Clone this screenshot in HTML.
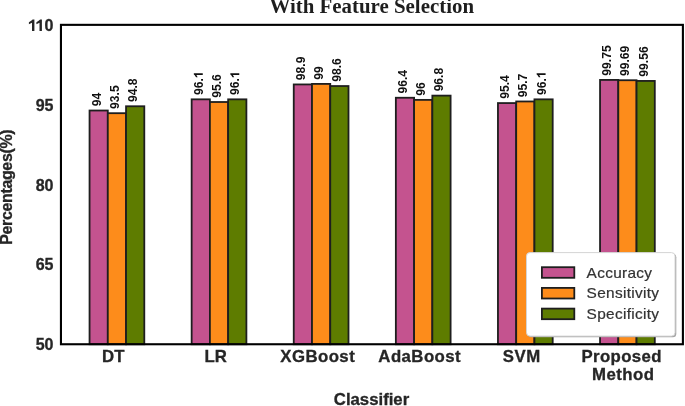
<!DOCTYPE html><html><head><meta charset="utf-8"><style>html,body{margin:0;padding:0;background:#fff;width:685px;height:406px;overflow:hidden}svg{display:block}.t{opacity:0.999}text{white-space:pre}</style></head><body>
<svg width="685" height="406" viewBox="0 0 685 406" style="will-change:transform">
<rect x="0" y="0" width="685" height="406" fill="#fff"/>
<rect x="89.55" y="110.52" width="18.25" height="233.73" fill="#C4538F" stroke="#1e1e1e" stroke-width="1.8"/>
<rect x="107.80" y="113.19" width="18.25" height="231.06" fill="#FD8C1B" stroke="#1e1e1e" stroke-width="1.8"/>
<rect x="126.05" y="106.26" width="18.25" height="237.99" fill="#5E7C00" stroke="#1e1e1e" stroke-width="1.8"/>
<rect x="191.65" y="99.34" width="18.25" height="244.91" fill="#C4538F" stroke="#1e1e1e" stroke-width="1.8"/>
<rect x="209.90" y="102.01" width="18.25" height="242.24" fill="#FD8C1B" stroke="#1e1e1e" stroke-width="1.8"/>
<rect x="228.15" y="99.34" width="18.25" height="244.91" fill="#5E7C00" stroke="#1e1e1e" stroke-width="1.8"/>
<rect x="293.75" y="84.44" width="18.25" height="259.81" fill="#C4538F" stroke="#1e1e1e" stroke-width="1.8"/>
<rect x="312.00" y="83.91" width="18.25" height="260.34" fill="#FD8C1B" stroke="#1e1e1e" stroke-width="1.8"/>
<rect x="330.25" y="86.04" width="18.25" height="258.21" fill="#5E7C00" stroke="#1e1e1e" stroke-width="1.8"/>
<rect x="395.85" y="97.75" width="18.25" height="246.50" fill="#C4538F" stroke="#1e1e1e" stroke-width="1.8"/>
<rect x="414.10" y="99.88" width="18.25" height="244.37" fill="#FD8C1B" stroke="#1e1e1e" stroke-width="1.8"/>
<rect x="432.35" y="95.62" width="18.25" height="248.63" fill="#5E7C00" stroke="#1e1e1e" stroke-width="1.8"/>
<rect x="497.95" y="103.07" width="18.25" height="241.18" fill="#C4538F" stroke="#1e1e1e" stroke-width="1.8"/>
<rect x="516.20" y="101.47" width="18.25" height="242.78" fill="#FD8C1B" stroke="#1e1e1e" stroke-width="1.8"/>
<rect x="534.45" y="99.34" width="18.25" height="244.91" fill="#5E7C00" stroke="#1e1e1e" stroke-width="1.8"/>
<rect x="600.05" y="79.91" width="18.25" height="264.34" fill="#C4538F" stroke="#1e1e1e" stroke-width="1.8"/>
<rect x="618.30" y="80.23" width="18.25" height="264.02" fill="#FD8C1B" stroke="#1e1e1e" stroke-width="1.8"/>
<rect x="636.55" y="80.93" width="18.25" height="263.32" fill="#5E7C00" stroke="#1e1e1e" stroke-width="1.8"/>
<text transform="translate(100.67,106.27) rotate(-90) translate(0.00,0) scale(0.97,1)" text-anchor="start" font-family="Liberation Sans" font-weight="bold" font-size="12.5" fill="#111">94</text>
<text transform="translate(118.92,108.94) rotate(-90) translate(0.00,0) scale(0.97,1)" text-anchor="start" font-family="Liberation Sans" font-weight="bold" font-size="12.5" fill="#111">93.5</text>
<text transform="translate(137.18,102.01) rotate(-90) translate(0.00,0) scale(0.97,1)" text-anchor="start" font-family="Liberation Sans" font-weight="bold" font-size="12.5" fill="#111">94.8</text>
<g transform="translate(202.77,95.09) rotate(-90) scale(0.97,1)">
<text x="0" y="0" font-family="Liberation Sans" font-weight="bold" font-size="12.5" fill="#111">96.</text>
<path transform="translate(17.38,0) scale(0.01250,-0.01250)" d="M270,0 L420,0 L420,716 L307,716 L239,641 L76,541 L76,410 L270,510 Z" fill="#111"/>
</g>
<text transform="translate(221.02,97.76) rotate(-90) translate(0.00,0) scale(0.97,1)" text-anchor="start" font-family="Liberation Sans" font-weight="bold" font-size="12.5" fill="#111">95.6</text>
<g transform="translate(239.27,95.09) rotate(-90) scale(0.97,1)">
<text x="0" y="0" font-family="Liberation Sans" font-weight="bold" font-size="12.5" fill="#111">96.</text>
<path transform="translate(17.38,0) scale(0.01250,-0.01250)" d="M270,0 L420,0 L420,716 L307,716 L239,641 L76,541 L76,410 L270,510 Z" fill="#111"/>
</g>
<text transform="translate(304.88,80.19) rotate(-90) translate(0.00,0) scale(0.97,1)" text-anchor="start" font-family="Liberation Sans" font-weight="bold" font-size="12.5" fill="#111">98.9</text>
<text transform="translate(323.12,79.66) rotate(-90) translate(0.00,0) scale(0.97,1)" text-anchor="start" font-family="Liberation Sans" font-weight="bold" font-size="12.5" fill="#111">99</text>
<text transform="translate(341.38,81.79) rotate(-90) translate(0.00,0) scale(0.97,1)" text-anchor="start" font-family="Liberation Sans" font-weight="bold" font-size="12.5" fill="#111">98.6</text>
<text transform="translate(406.97,93.50) rotate(-90) translate(0.00,0) scale(0.97,1)" text-anchor="start" font-family="Liberation Sans" font-weight="bold" font-size="12.5" fill="#111">96.4</text>
<text transform="translate(425.22,95.63) rotate(-90) translate(0.00,0) scale(0.97,1)" text-anchor="start" font-family="Liberation Sans" font-weight="bold" font-size="12.5" fill="#111">96</text>
<text transform="translate(443.47,91.37) rotate(-90) translate(0.00,0) scale(0.97,1)" text-anchor="start" font-family="Liberation Sans" font-weight="bold" font-size="12.5" fill="#111">96.8</text>
<text transform="translate(509.07,98.82) rotate(-90) translate(0.00,0) scale(0.97,1)" text-anchor="start" font-family="Liberation Sans" font-weight="bold" font-size="12.5" fill="#111">95.4</text>
<text transform="translate(527.33,97.22) rotate(-90) translate(0.00,0) scale(0.97,1)" text-anchor="start" font-family="Liberation Sans" font-weight="bold" font-size="12.5" fill="#111">95.7</text>
<g transform="translate(545.58,95.09) rotate(-90) scale(0.97,1)">
<text x="0" y="0" font-family="Liberation Sans" font-weight="bold" font-size="12.5" fill="#111">96.</text>
<path transform="translate(17.38,0) scale(0.01250,-0.01250)" d="M270,0 L420,0 L420,716 L307,716 L239,641 L76,541 L76,410 L270,510 Z" fill="#111"/>
</g>
<text transform="translate(611.17,75.66) rotate(-90) translate(0.00,0) scale(0.97,1)" text-anchor="start" font-family="Liberation Sans" font-weight="bold" font-size="12.5" fill="#111">99.75</text>
<text transform="translate(629.42,75.98) rotate(-90) translate(0.00,0) scale(0.97,1)" text-anchor="start" font-family="Liberation Sans" font-weight="bold" font-size="12.5" fill="#111">99.69</text>
<text transform="translate(647.67,76.68) rotate(-90) translate(0.00,0) scale(0.97,1)" text-anchor="start" font-family="Liberation Sans" font-weight="bold" font-size="12.5" fill="#111">99.56</text>
<rect x="60.95" y="24.85" width="621.95" height="319.40" fill="none" stroke="#000" stroke-width="2.1"/>
<text transform="translate(53.50,31.20) translate(0.00,0)" text-anchor="end" font-family="Liberation Sans" font-weight="bold" font-size="16" fill="#262626" stroke="#262626" stroke-width="0.3">0</text>
<path d="M32.00,30.90 L34.40,30.90 L34.40,19.40 L32.60,19.40 L31.50,20.60 L28.90,22.20 L28.90,24.30 L32.00,22.70 Z" fill="#262626"/>
<path d="M39.50,30.90 L41.90,30.90 L41.90,19.40 L40.10,19.40 L39.00,20.60 L36.40,22.20 L36.40,24.30 L39.50,22.70 Z" fill="#262626"/>
<text transform="translate(53.50,110.85) translate(0.00,0)" text-anchor="end" font-family="Liberation Sans" font-weight="bold" font-size="16" fill="#262626" stroke="#262626" stroke-width="0.3">95</text>
<text transform="translate(53.50,190.50) translate(0.00,0)" text-anchor="end" font-family="Liberation Sans" font-weight="bold" font-size="16" fill="#262626" stroke="#262626" stroke-width="0.3">80</text>
<text transform="translate(53.50,270.15) translate(0.00,0)" text-anchor="end" font-family="Liberation Sans" font-weight="bold" font-size="16" fill="#262626" stroke="#262626" stroke-width="0.3">65</text>
<text transform="translate(53.50,349.80) translate(0.00,0)" text-anchor="end" font-family="Liberation Sans" font-weight="bold" font-size="16" fill="#262626" stroke="#262626" stroke-width="0.3">50</text>
<text transform="translate(113.20,361.80) scale(1.05,1) translate(-0.00,0)" text-anchor="middle" font-family="Liberation Sans" font-weight="bold" font-size="16" fill="#262626" stroke="#262626" stroke-width="0.3">DT</text>
<text transform="translate(215.60,361.80) scale(1.05,1) translate(-0.00,0)" text-anchor="middle" font-family="Liberation Sans" font-weight="bold" font-size="16" fill="#262626" stroke="#262626" stroke-width="0.3">LR</text>
<text transform="translate(317.50,361.80) scale(1.05,1) translate(0.21,0)" text-anchor="middle" font-family="Liberation Sans" font-weight="bold" font-size="16" letter-spacing="0.42" fill="#262626" stroke="#262626" stroke-width="0.3">XGBoost</text>
<text transform="translate(419.50,361.80) scale(1.05,1) translate(0.21,0)" text-anchor="middle" font-family="Liberation Sans" font-weight="bold" font-size="16" letter-spacing="0.42" fill="#262626" stroke="#262626" stroke-width="0.3">AdaBoost</text>
<text transform="translate(521.50,361.80) scale(1.05,1) translate(0.21,0)" text-anchor="middle" font-family="Liberation Sans" font-weight="bold" font-size="16" letter-spacing="0.42" fill="#262626" stroke="#262626" stroke-width="0.3">SVM</text>
<text transform="translate(621.50,361.80) scale(1.05,1) translate(0.18,0)" text-anchor="middle" font-family="Liberation Sans" font-weight="bold" font-size="16" letter-spacing="0.37" fill="#262626" stroke="#262626" stroke-width="0.3">Proposed</text>
<text transform="translate(623.00,380.10) scale(1.05,1) translate(0.23,0)" text-anchor="middle" font-family="Liberation Sans" font-weight="bold" font-size="16" letter-spacing="0.45" fill="#262626" stroke="#262626" stroke-width="0.3">Method</text>
<text transform="translate(12.00,187.10) rotate(-90) translate(-0.17,0)" text-anchor="middle" font-family="Liberation Sans" font-weight="bold" font-size="16" letter-spacing="-0.35" fill="#262626" stroke="#262626" stroke-width="0.3">Percentages(%)</text>
<text transform="translate(371.50,404.70) scale(1.047,1) translate(0.00,0)" text-anchor="middle" font-family="Liberation Sans" font-weight="bold" font-size="16" fill="#262626" stroke="#262626" stroke-width="0.3">Classifier</text>
<text transform="translate(371.75,13.40) scale(1.045,1) translate(0.00,0)" text-anchor="middle" font-family="Liberation Serif" font-weight="bold" font-size="20" fill="#1e1e1e">With Feature Selection</text>
<rect x="527.8" y="253.8" width="148.5" height="83.5" rx="3.5" ry="3.5" fill="#a6a6a6"/>
<rect x="526.5" y="252.6" width="148.5" height="83.5" rx="3.5" ry="3.5" fill="#fff" stroke="#d4d4d4" stroke-width="1"/>
<rect x="541.9" y="267.20" width="32.4" height="10.6" fill="#C4538F" stroke="#1e1e1e" stroke-width="1.8"/>
<text transform="translate(586.60,277.70) scale(1.1,1) translate(0.00,0)" text-anchor="start" font-family="Liberation Sans" font-size="14" letter-spacing="0.28" fill="#333" stroke="#333" stroke-width="0.2">Accuracy</text>
<rect x="541.9" y="287.90" width="32.4" height="10.6" fill="#FD8C1B" stroke="#1e1e1e" stroke-width="1.8"/>
<text transform="translate(586.60,298.40) scale(1.1,1) translate(0.00,0)" text-anchor="start" font-family="Liberation Sans" font-size="14" letter-spacing="0.28" fill="#333" stroke="#333" stroke-width="0.2">Sensitivity</text>
<rect x="541.9" y="308.60" width="32.4" height="10.6" fill="#5E7C00" stroke="#1e1e1e" stroke-width="1.8"/>
<text transform="translate(586.60,319.10) scale(1.1,1) translate(0.00,0)" text-anchor="start" font-family="Liberation Sans" font-size="14" letter-spacing="0.28" fill="#333" stroke="#333" stroke-width="0.2">Specificity</text>
</svg></body></html>
